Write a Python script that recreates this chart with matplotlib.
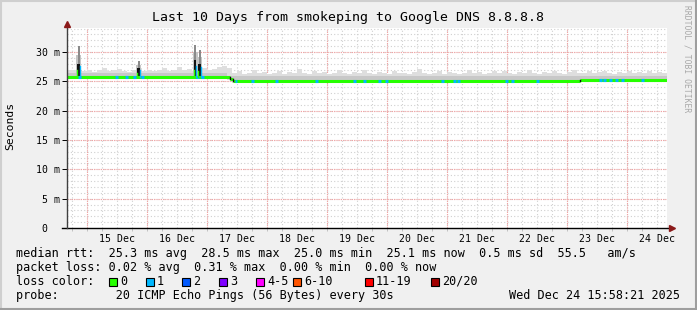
#!/usr/bin/env python3
import numpy as np
import matplotlib
matplotlib.use('Agg')
import matplotlib.pyplot as plt
from matplotlib.patches import Rectangle
from matplotlib.lines import Line2D

# time axis: hours since 14 Dec 16:00, 10 days shown
day_labels = ['15 Dec', '16 Dec', '17 Dec', '18 Dec', '19 Dec',
              '20 Dec', '21 Dec', '22 Dec', '23 Dec', '24 Dec']
y_ticks = [0, 5, 10, 15, 20, 25, 30]
y_labels = ['0  ', '5 m', '10 m', '15 m', '20 m', '25 m', '30 m']

# median rtt (ms) as steps: (start hour, end hour, value)
median_steps = [(0, 65.0, 25.7), (65.0, 66.4, 25.35), (66.4, 205.0, 25.0), (205.0, 240.0, 25.25)]

# upper edge of the smoke (ms), 2 hour bins
smoke_max = [26.9, 27.0, 26.8, 26.7, 26.9, 26.6, 27.0, 27.2, 26.8, 26.9,
             27.1, 26.7, 26.6, 26.9, 27.3, 26.8, 27.0, 26.7, 26.9, 27.2,
             26.8, 27.0, 27.4, 26.9, 27.1, 26.8, 27.0, 27.2, 26.9, 27.1,
             27.4, 27.6, 27.3,
             26.4, 26.7, 26.3, 26.5, 27.0, 26.4, 26.6, 26.2, 26.5, 26.8,
             26.3, 26.6, 26.4, 27.1, 26.5, 26.3, 26.7, 26.4, 26.6, 26.2,
             26.5, 26.9, 26.4, 26.3, 26.6, 26.5, 27.0, 26.4, 26.2, 26.6,
             26.5, 26.3, 26.8, 26.4, 26.5, 26.2, 26.6, 27.1, 26.4, 26.3,
             26.5, 26.7, 26.3, 26.6, 26.4, 26.2, 26.5, 26.9, 26.4, 26.6,
             26.3, 26.5, 26.7, 26.4, 26.8, 26.5, 26.3, 26.6, 26.4, 27.0,
             26.5, 26.3, 26.6, 26.4, 26.7, 26.5, 26.2, 26.6, 26.9, 26.4,
             26.5, 26.7, 26.4, 26.6, 26.8, 26.5, 26.3, 26.6, 26.4, 26.7,
             26.5, 26.6, 26.4, 26.8, 26.5, 26.6, 26.4]
# top of the darker part of the smoke
band_steps = [(0, 65.0, 26.4), (65.0, 240.0, 25.9)]

# latency spikes
spike_hours = [4.6, 28.6, 51.2, 53.0]
spike_max = [31.0, 28.4, 31.2, 30.4]
spike_dark = [27.9, 27.3, 28.7, 28.0]
spike_median = [27.6, 27.0, 27.6, 27.4]

# hours where median shows 1/20 loss
loss1_hours = [4.8, 19.6, 23.6, 26.8, 30.3, 52.3, 54.3, 67.6, 74, 83.6, 99.6,
               115, 119, 125, 127.6, 150, 155, 156.5, 175.6, 178.3, 188.3,
               213.5, 215, 217.5, 219.6, 222.3, 230]

loss_labels = ['0', '1', '2', '3', '4-5', '6-10', '11-19', '20/20']
loss_colors = ['#26ff00', '#00b8ff', '#0059ff', '#7e00ff', '#ff00ff', '#ff5500', '#ff0000', '#a10000']
loss_box_x = [109, 146, 182, 219, 256, 293, 365, 431]

W, H = 697, 310
mono = 'DejaVu Sans Mono'


def step_value(steps, h):
    for a, b, v in steps:
        if a <= h < b:
            return v
    return steps[-1][2]


fig = plt.figure(figsize=(W / 100, H / 100), dpi=100, facecolor='#f0f0f0')
ax = fig.add_axes([67 / W, (H - 228) / H, 600 / W, 200 / H])
ax.set_facecolor('white')
ax.set_xlim(0, 240)
ax.set_ylim(0, 34.1)
for s in ax.spines.values():
    s.set_visible(False)

# grid
for h in np.arange(2, 240, 6):
    ax.axvline(h, color='#d0d0d0', lw=0.8, ls=(0, (1, 2)), zorder=0)
for v in np.arange(1, 35, 1):
    ax.axhline(v, color='#d0d0d0', lw=0.8, ls=(0, (1, 2)), zorder=0)
for h in np.arange(8, 240, 24):
    ax.axvline(h, color='#f4a0a0', lw=0.8, ls=(0, (1, 1)), zorder=0.5)
for v in y_ticks[1:]:
    ax.axhline(v, color='#f4a0a0', lw=0.8, ls=(0, (1, 1)), zorder=0.5)

# smoke
edges = np.arange(0, 242, 2)
centers = edges[:-1] + 1
med = np.array([step_value(median_steps, c) for c in centers])
band = np.array([step_value(band_steps, c) for c in centers])
smax = np.array(smoke_max)
ax.bar(centers, smax - (med - 0.2), bottom=med - 0.2, width=2.0, color='#dedede', lw=0, zorder=1)
ax.bar(centers, np.minimum(band, smax) - med, bottom=med, width=2.0, color='#c8c8c8', lw=0, zorder=1.1)

# spikes
for h, top, dark, m in zip(spike_hours, spike_max, spike_dark, spike_median):
    base = step_value(median_steps, h)
    ax.bar(h, (dark + top) / 2 - base, bottom=base, width=2.0, color='#c4c4c4', lw=0, zorder=1.2)
    ax.bar(h, top - base, bottom=base, width=0.8, color='#8a8a8a', lw=0, zorder=1.3)
    ax.bar(h, dark - base, bottom=base, width=0.9, color='#111111', lw=0, zorder=1.4)

# median line
for a, b, v in median_steps:
    ax.plot([a, b], [v, v], color=loss_colors[0], lw=2.2, solid_capstyle='butt', zorder=3)
for i in range(len(median_steps) - 1):
    b = median_steps[i][1]
    ax.plot([b, b], [median_steps[i][2], median_steps[i + 1][2]], color='#111111', lw=1.0, zorder=3)
for h in loss1_hours:
    v = step_value(median_steps, h)
    ax.plot([h - 0.6, h + 0.6], [v, v], color=loss_colors[1], lw=2.2, solid_capstyle='butt', zorder=3.1)
for h, m in zip(spike_hours, spike_median):
    base = step_value(median_steps, h)
    ax.plot([h + 0.5, h + 0.5], [base, m], color=loss_colors[1], lw=1.0, zorder=3.2)
    ax.plot([h - 0.5, h - 0.5], [base, m - 0.6], color=loss_colors[0], lw=1.0, zorder=3.2)

# axes lines with arrows
ax.plot([-0.008, 1.008], [0, 0], transform=ax.transAxes, color='black', lw=1.0, clip_on=False, zorder=4)
ax.plot([0, 0], [0, 1.01], transform=ax.transAxes, color='#404040', lw=1.0, clip_on=False, zorder=4)
ax.plot([1.009], [0], marker='>', ms=4, color='#8b1a1a', transform=ax.transAxes, clip_on=False, zorder=5)
ax.plot([0], [1.02], marker='^', ms=4, color='#8b1a1a', transform=ax.transAxes, clip_on=False, zorder=5)

# ticks
ax.set_xticks(np.arange(20, 240, 24), labels=day_labels)
ax.set_xticks(np.arange(2, 240, 6), minor=True)
ax.tick_params(axis='x', which='major', length=0, pad=4, labelsize=7.1)
ax.tick_params(axis='x', which='minor', length=2, color='#c0c0c0', width=0.7)
ax.set_yticks(y_ticks, labels=y_labels)
ax.tick_params(axis='y', which='major', length=3.6, width=0.7, pad=1.4, labelsize=7.1)
for lab in ax.get_xticklabels() + ax.get_yticklabels():
    lab.set_family(mono)


def fx(x):
    return x / W


def fy(y):
    return 1 - y / H


# title, axis label, watermark
fig.text(fx(348), fy(18), 'Last 10 Days from smokeping to Google DNS 8.8.8.8',
         ha='center', va='center', fontsize=9.5, family=mono)
fig.text(fx(10), fy(126), 'Seconds', rotation=90, ha='center', va='center', fontsize=8.2, family=mono)
fig.text(fx(687.5), fy(5), 'RRDTOOL / TOBI OETIKER', rotation=-90, ha='center', va='top',
         fontsize=5.8, color='#a8a8a8', family=mono)

# legend
fs = 8.5
fig.text(fx(16), fy(257.5), 'median rtt:  25.3 ms avg  28.5 ms max  25.0 ms min  25.1 ms now  0.5 ms sd  55.5   am/s',
         fontsize=fs, family=mono, va='baseline')
fig.text(fx(16), fy(271.3), 'packet loss: 0.02 % avg  0.31 % max  0.00 % min  0.00 % now',
         fontsize=fs, family=mono, va='baseline')
fig.text(fx(16), fy(285.0), 'loss color:', fontsize=fs, family=mono, va='baseline')
for x0, lab, c in zip(loss_box_x, loss_labels, loss_colors):
    fig.add_artist(Rectangle((fx(x0), fy(286)), 8 / W, 8 / H, facecolor=c, edgecolor='black',
                             lw=0.8, transform=fig.transFigure))
    fig.text(fx(x0 + 11), fy(285.0), lab, fontsize=fs, family=mono, va='baseline')
fig.text(fx(16), fy(298.8), 'probe:        20 ICMP Echo Pings (56 Bytes) every 30s',
         fontsize=fs, family=mono, va='baseline')
fig.text(fx(680), fy(298.8), 'Wed Dec 24 15:58:21 2025', ha='right',
         fontsize=fs, family=mono, va='baseline')

# frame shading
fig.add_artist(Line2D([0, 1], [fy(1), fy(1)], color='#cfcfcf', lw=1.5, transform=fig.transFigure))
fig.add_artist(Line2D([fx(1), fx(1)], [0, 1], color='#cfcfcf', lw=1.5, transform=fig.transFigure))
fig.add_artist(Line2D([0, 1], [fy(309), fy(309)], color='#9e9e9e', lw=1.5, transform=fig.transFigure))
fig.add_artist(Line2D([fx(696), fx(696)], [0, 1], color='#9e9e9e', lw=1.5, transform=fig.transFigure))

fig.savefig('out.png', dpi=100, facecolor=fig.get_facecolor())
